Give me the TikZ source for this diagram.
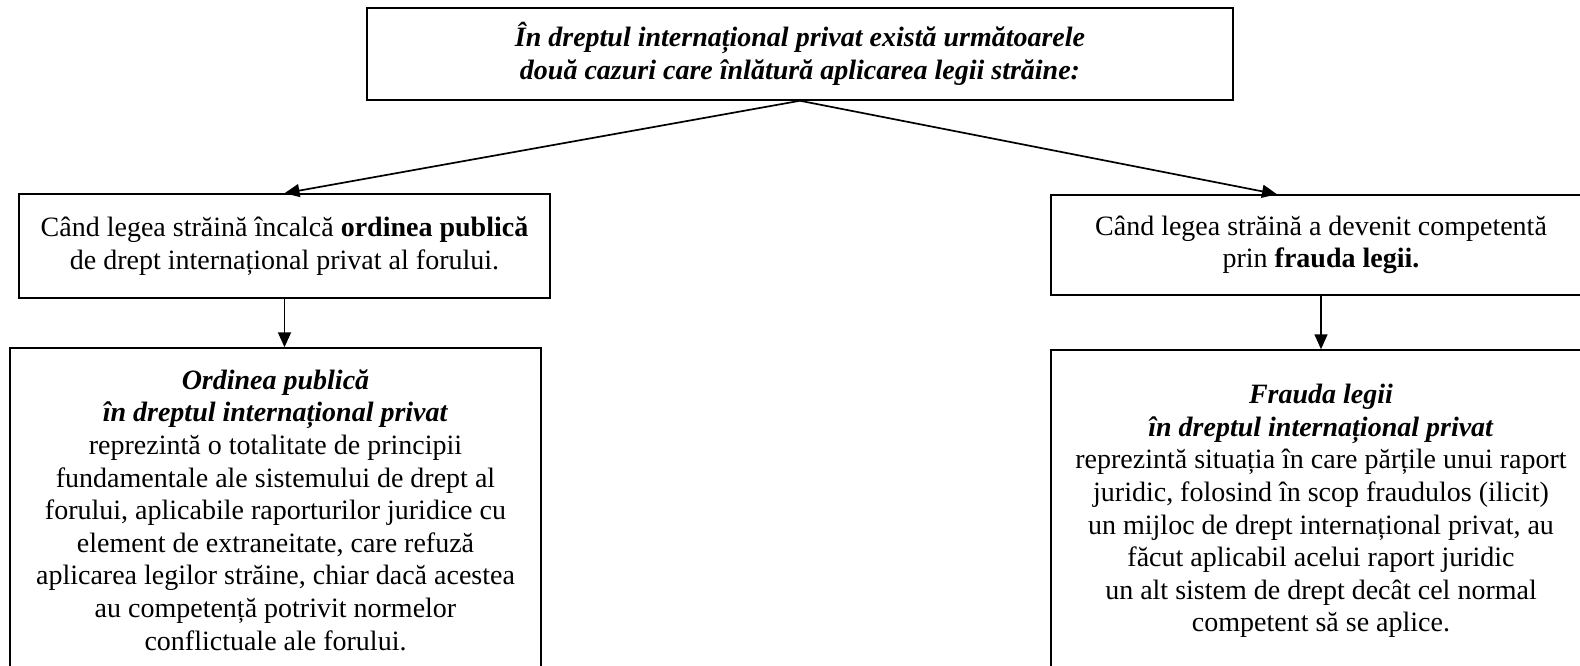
\documentclass[tikz,border=0pt]{standalone}
\usepackage{fontspec}
\setmainfont{Liberation Serif}
\usetikzlibrary{arrows.meta}

\begin{document}
\begin{tikzpicture}[
  x=1pt, y=-1pt,
  box/.style={draw, line width=1.5pt, inner sep=0pt, align=center, font=\fontsize{28}{32.6}\selectfont},
  arr/.style={-{Triangle[length=15pt,width=13pt]}, line width=1.7pt}
]
\useasboundingbox (0,0) rectangle (1580,666);

\node[box, minimum width=866pt, minimum height=92pt] (top) at (800,54)
  {\textbf{\textit{În dreptul internațional privat există următoarele}}\\
   \textbf{\textit{două cazuri care înlătură aplicarea legii străine:}}};
\node[box, minimum width=531pt, minimum height=104pt] (ord) at (284.5,246)
  {Când legea străină încalcă \textbf{ordinea publică}\\de drept internațional privat al forului.};
\node[box, minimum width=540pt, minimum height=100pt] (fra) at (1321,245)
  {Când legea străină a devenit competentă\\prin \textbf{frauda legii.}};
\node[box, minimum width=531pt, minimum height=324pt] (orddef) at (275.5,510)
  {\textbf{\textit{Ordinea publică}}\\
   \textbf{\textit{în dreptul internațional privat}}\\
   reprezintă o totalitate de principii\\
   fundamentale ale sistemului de drept al\\
   forului, aplicabile raporturilor juridice cu\\
   element de extraneitate, care refuză\\
   aplicarea legilor străine, chiar dacă acestea\\
   au competență potrivit normelor\\
   conflictuale ale forului.};
\node[box, minimum width=540pt, minimum height=322pt] (fradef) at (1321,511)
  {\textbf{\textit{Frauda legii}}\\
   \textbf{\textit{în dreptul internațional privat}}\\
   reprezintă situația în care părțile unui raport\\
   juridic, folosind în scop fraudulos (ilicit)\\
   un mijloc de drept internațional privat, au\\
   făcut aplicabil acelui raport juridic\\
   un alt sistem de drept decât cel normal\\
   competent să se aplice.};

\draw[arr] (top.south) -- (ord.north);
\draw[arr] (top.south) -- ([xshift=-44pt]fra.north);
\draw[arr] (ord.south) -- (ord.south |- orddef.north);
\draw[arr] (fra.south) -- (fradef.north);
\end{tikzpicture}
\end{document}
